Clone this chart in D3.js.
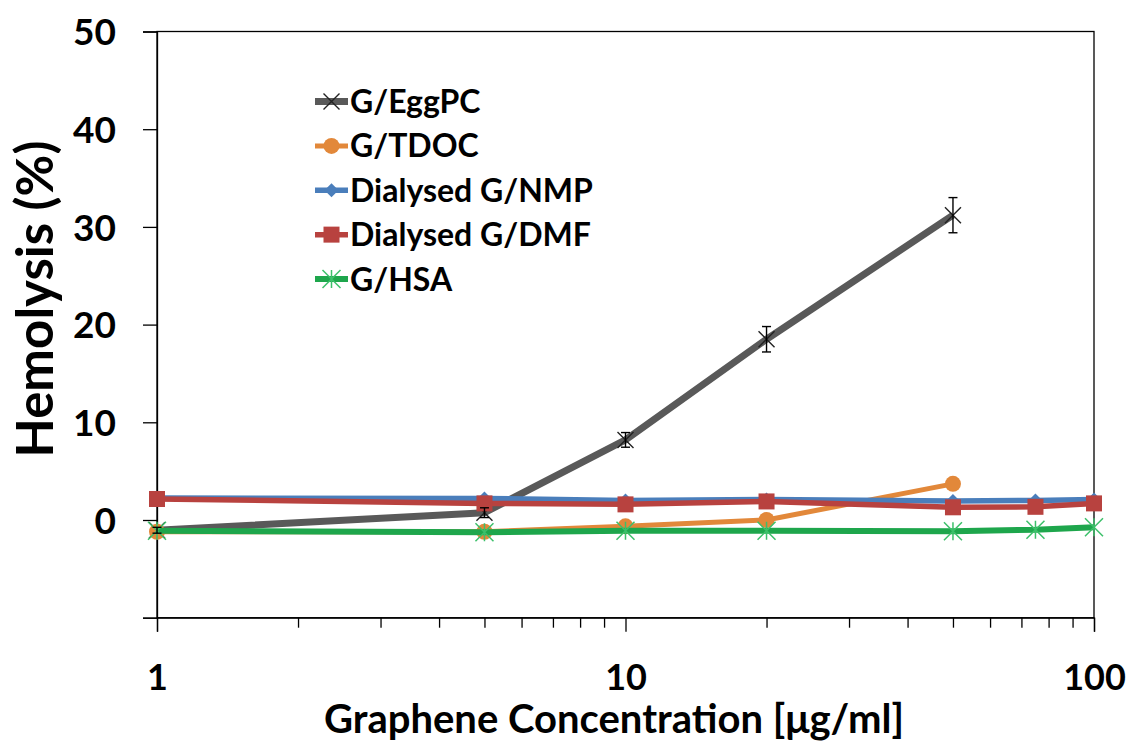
<!DOCTYPE html>
<html>
<head>
<meta charset="utf-8">
<script src="https://cdn.jsdelivr.net/npm/d3@7/dist/d3.min.js"></script>
<style>
  html, body { margin: 0; padding: 0; background: #fff; }
  svg { display: block; }
  text { font-family: Lato, "Open Sans", sans-serif; font-weight: bold; fill: #000; }
</style>
</head>
<body>
<svg id="chart" width="1131" height="745"></svg>
<script>
// Hemolysis (%) versus graphene concentration for each dispersion
const concShort = [1, 5, 10, 20, 50];
const concLong = [1, 5, 10, 20, 50, 75, 100];

const eggPC = [-1.05, 0.75, 8.2, 18.5, 31.2];
const eggPCErr = [0.3, 0.5, 0.75, 1.3, 1.8];
const tdoc = [-1.2, -1.2, -0.65, 0.0, 3.7];
const nmp = [2.25, 2.2, 2.0, 2.1, 1.95, 2.0, 2.1];
const dmf = [2.15, 1.7, 1.6, 1.9, 1.3, 1.35, 1.7];
const hsa = [-1.1, -1.25, -1.1, -1.1, -1.15, -1.0, -0.75];

const yTicks = [-10, 0, 10, 20, 30, 40, 50];
const xMajorTicks = [1, 10, 100];
const xMinorTicks = [2, 3, 4, 5, 6, 7, 8, 9, 20, 30, 40, 50, 60, 70, 80, 90];

const seriesNames = ["G/EggPC", "G/TDOC", "Dialysed G/NMP", "Dialysed G/DMF", "G/HSA"];

const svg = d3.select("#chart");
const plotLeft = 157, plotRight = 1094, plotTop = 31.5, plotBottom = 617.7;

const x = d3.scaleLog().domain([1, 100]).range([plotLeft, plotRight]);
const y = d3.scaleLinear().domain([-10, 50]).range([plotBottom, plotTop]);

// frame
svg.append("rect")
  .attr("x", plotLeft).attr("y", plotTop)
  .attr("width", plotRight - plotLeft).attr("height", plotBottom - plotTop)
  .attr("fill", "none").attr("stroke", "#000").attr("stroke-width", 1.3);

// y axis
const yAxis = svg.append("g")
  .attr("transform", `translate(${plotLeft},0)`)
  .call(d3.axisLeft(y).tickValues(yTicks).tickSize(14).tickPadding(27)
    .tickFormat(d => d < 0 ? "" : d));
yAxis.select(".domain").attr("stroke-width", 1.3);
yAxis.selectAll(".tick line").attr("stroke-width", 1.3);
yAxis.selectAll(".tick text")
  .style("font-size", "37px").attr("font-family", null).attr("dy", "0.36em");

// x axis: major and minor ticks
const xAxis = svg.append("g")
  .attr("transform", `translate(0,${plotBottom})`)
  .call(d3.axisBottom(x).tickValues(xMajorTicks).tickSize(14).tickPadding(33)
    .tickFormat(d3.format("d")));
xAxis.select(".domain").attr("stroke-width", 1.3);
xAxis.selectAll(".tick line").attr("stroke-width", 1.3);
xAxis.selectAll(".tick text").style("font-size", "36px").attr("font-family", null);

svg.append("g")
  .attr("transform", `translate(0,${plotBottom})`)
  .call(d3.axisBottom(x).tickValues(xMinorTicks).tickSize(10).tickFormat(""))
  .call(g => g.select(".domain").remove())
  .selectAll(".tick line").attr("stroke-width", 1.3);

// axis titles
svg.append("text")
  .attr("x", 614).attr("y", 733)
  .attr("text-anchor", "middle")
  .style("font-size", "40px")
  .text("Graphene Concentration [μg/ml]");

svg.append("text")
  .attr("transform", "translate(53,299) rotate(-90)")
  .attr("text-anchor", "middle")
  .style("font-size", "51px")
  .text("Hemolysis (%)");

// marker shapes
function drawMarker(g, kind, cx, cy, color) {
  if (kind === "x") {
    const s = 8;
    g.append("path")
      .attr("d", `M${cx - s},${cy - s}L${cx + s},${cy + s}M${cx - s},${cy + s}L${cx + s},${cy - s}`)
      .attr("stroke", "#222").attr("stroke-width", 1.4).attr("fill", "none");
  } else if (kind === "circle") {
    g.append("circle").attr("cx", cx).attr("cy", cy).attr("r", 8).attr("fill", color);
  } else if (kind === "diamond") {
    const s = 7;
    g.append("path")
      .attr("d", `M${cx},${cy - s}L${cx + s},${cy}L${cx},${cy + s}L${cx - s},${cy}Z`)
      .attr("fill", color);
  } else if (kind === "square") {
    const s = 8;
    g.append("rect").attr("x", cx - s).attr("y", cy - s)
      .attr("width", 2 * s).attr("height", 2 * s).attr("fill", color);
  } else if (kind === "star") {
    const s = 9;
    g.append("path")
      .attr("d", `M${cx - s},${cy - s}L${cx + s},${cy + s}M${cx - s},${cy + s}L${cx + s},${cy - s}M${cx},${cy - s}L${cx},${cy + s}`)
      .attr("stroke", "#3cc06a").attr("stroke-width", 1.5).attr("fill", "none");
  }
}

const series = [
  { name: seriesNames[0], xs: concShort, ys: eggPC, color: "#595959", width: 7, marker: "x" },
  { name: seriesNames[1], xs: concShort, ys: tdoc, color: "#e2883a", width: 5, marker: "circle" },
  { name: seriesNames[2], xs: concLong, ys: nmp, color: "#4a7ebb", width: 5.5, marker: "diamond" },
  { name: seriesNames[3], xs: concLong, ys: dmf, color: "#b8423f", width: 5.5, marker: "square" },
  { name: seriesNames[4], xs: concLong, ys: hsa, color: "#1ea64c", width: 6, marker: "star" }
];

const line = d3.line().x(d => x(d[0])).y(d => y(d[1]));

series.forEach(s => {
  const pts = s.xs.map((c, i) => [c, s.ys[i]]);
  const g = svg.append("g");
  g.append("path").datum(pts)
    .attr("d", line)
    .attr("fill", "none").attr("stroke", s.color)
    .attr("stroke-width", s.width).attr("stroke-linejoin", "round");
  pts.forEach(p => drawMarker(g, s.marker, x(p[0]), y(p[1]), s.color));
});

// error bars on G/EggPC
const eb = svg.append("g").attr("stroke", "#000").attr("stroke-width", 1.4);
concShort.forEach((c, i) => {
  const cx = x(c), y0 = y(eggPC[i] - eggPCErr[i]), y1 = y(eggPC[i] + eggPCErr[i]);
  eb.append("line").attr("x1", cx).attr("x2", cx).attr("y1", y0).attr("y2", y1);
  eb.append("line").attr("x1", cx - 4.5).attr("x2", cx + 4.5).attr("y1", y0).attr("y2", y0);
  eb.append("line").attr("x1", cx - 4.5).attr("x2", cx + 4.5).attr("y1", y1).attr("y2", y1);
});

// legend
const legendY = d3.scaleLinear().domain([0, 4]).range([101.5, 279]);
series.forEach((s, i) => {
  const cy = legendY(i);
  const g = svg.append("g");
  g.append("line").attr("x1", 315).attr("x2", 348).attr("y1", cy).attr("y2", cy)
    .attr("stroke", s.color).attr("stroke-width", s.width);
  drawMarker(g, s.marker, 331.5, cy, s.color);
  g.append("text").attr("x", 350).attr("y", cy + 11.5)
    .style("font-size", "32px").text(s.name);
});
</script>
</body>
</html>
